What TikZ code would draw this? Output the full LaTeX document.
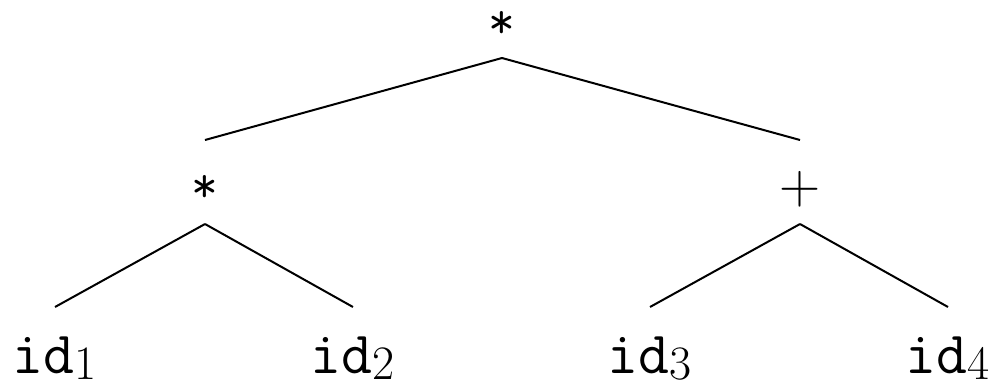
\documentclass[tikz,border=0pt]{standalone}
\usepackage{fontspec}
\usetikzlibrary{calc}
\newcommand{\idsub}[1]{\texttt{id}\raisebox{-3pt}{\fontsize{24}{28}\selectfont #1}}
\begin{document}
\begin{tikzpicture}[x=0.5pt,y=-0.5pt,
  lbl/.style={inner sep=0pt,font=\fontsize{30}{36}\selectfont},
  star/.style={inner sep=0pt,font=\fontsize{26}{30}\selectfont},
  plus/.style={inner sep=0pt,font=\fontsize{28.5}{32}\selectfont},
  edge/.style={line width=1pt}]
\useasboundingbox (0,0) rectangle (1001,382);
\node[star] (r) at (502,25) {\texttt{*}};
\node[star] (a) at (205,189) {\texttt{*}};
\node[plus] (b) at (800,189) {+};
\node[lbl,anchor=base west] (i1) at (12,373) {\idsub{1}};
\node[lbl,anchor=base west] (i2) at (310,373) {\idsub{2}};
\node[lbl,anchor=base west] (i3) at (607,373) {\idsub{3}};
\node[lbl,anchor=base west] (i4) at (905,373) {\idsub{4}};
\draw[edge] ($(r)+(0,33)$) -- ($(a)+(0,-49)$);
\draw[edge] ($(r)+(0,33)$) -- ($(b)+(0,-49)$);
\draw[edge] ($(a)+(0,35)$) -- ($(i1.base west)+(43,-66)$);
\draw[edge] ($(a)+(0,35)$) -- ($(i2.base west)+(43,-66)$);
\draw[edge] ($(b)+(0,35)$) -- ($(i3.base west)+(43,-66)$);
\draw[edge] ($(b)+(0,35)$) -- ($(i4.base west)+(43,-66)$);
\end{tikzpicture}
\end{document}
